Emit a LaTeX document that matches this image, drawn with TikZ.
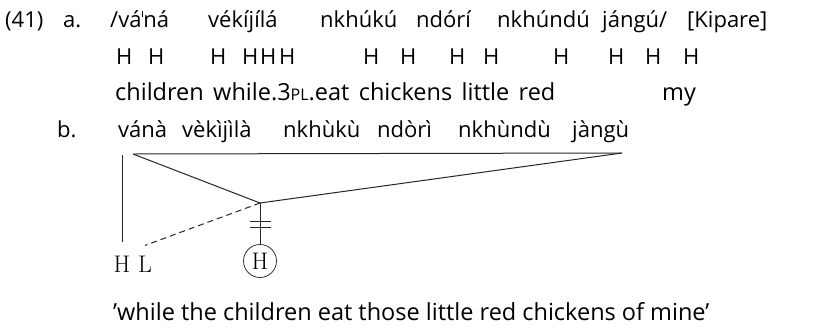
\documentclass[tikz,border=0pt]{standalone}
\usepackage{fontspec}
\newfontfamily\glfont{Open Sans}
\usetikzlibrary{calc}
\tikzset{
  w/.style={anchor=base west, inner sep=0pt, font=\glfont\fontsize{22}{22}\selectfont},
  wg/.style={anchor=base west, inner sep=0pt, font=\glfont\fontsize{23.5}{23.5}\selectfont},
  wt/.style={anchor=base west, inner sep=0pt, font=\glfont\fontsize{23.5}{23.5}\selectfont},
  ser/.style={inner sep=0pt, anchor=base, font=\fontsize{24}{24}\selectfont},
  ln/.style={line width=1pt, draw=black!85},
}
\newcommand{\dstep}{\kern0.5pt\rule[10pt]{0.9pt}{6.5pt}\kern0.5pt}
\newcommand{\smcap}[1]{{\fontsize{16}{16}\selectfont #1}}
\begin{document}
\begin{tikzpicture}[x=1pt,y=-1pt]
\useasboundingbox (0,0) rectangle (826,330);
% line 1
\node[w] (n41) at (5,27) {(41)};
\node[w] (na) at (63,27) {a.};
\node[w] (a1) at (110,27) {/vá\dstep ná};
\node[w] (a2) at (208,27) {vékíjílá};
\node[w] (a3) at (320,27) {nkhúkú};
\node[w] (a4) at (416,27) {ndórí};
\node[w] (a5) at (497,27) {nkhúndú};
\node[w] (a6) at (602,27) {jángú/};
\node[w] (kip) at (687,27) {[Kipare]};
% line 2 tones
\foreach \x [count=\i] in {116,148,210,242,260,279,363,400,449,483,553,608,645,683}
  \node[w] (t\i) at (\x,64) {H};
% line 3 glosses
\node[wg] (g1) at (115,100) {children};
\node[wg] (g2) at ([xshift=9pt]g1.base east) {while.3\smcap{PL}.eat};
\node[wg] (g3) at ([xshift=9pt]g2.base east) {chickens};
\node[wg] (g4) at ([xshift=9pt]g3.base east) {little};
\node[wg] (g5) at ([xshift=9pt]g4.base east) {red};
\node[wg] (g6) at (662,100) {my};
% line b
\node[w] (nb) at (57,137) {b.};
\node[w] (b1) at (118,137) {vánà};
\node[w] (b2) at (182,137) {vèkìjìlà};
\node[w] (b3) at (283,137) {nkhùkù};
\node[w] (b4) at (377,137) {ndòrì};
\node[w] (b5) at (458,137) {nkhùndù};
\node[w] (b6) at (572,137) {jàngù};
% tiers
\coordinate (tl) at (133,154);
\coordinate (tr) at (622,153);
\coordinate (apex) at (260,203);
\coordinate (vtop) at (122,155);
\node[ser] (hH) at (122,272) {H};
\node[ser] (hL) at (145,272) {L};
\node[ser, circle, draw=black!80, line width=0.8pt, minimum size=33pt, anchor=center] (cH) at (260,261) {H};
\draw[ln] (tl) -- (tr);
\draw[ln] (tl) -- (apex) -- (tr);
\draw[ln] (vtop) -- ([yshift=13pt]hH.north);
\draw[ln, dash pattern=on 6pt off 4pt] (apex) -- ([yshift=10pt]hL.north);
\draw[ln] (apex) -- (cH.north);
\path (apex) -- (cH.north) coordinate[pos=0.44] (k1) coordinate[pos=0.585] (k2);
\draw[ln] ([xshift=-10.5pt]k1) -- ([xshift=10.5pt]k1);
\draw[ln] ([xshift=-10.5pt]k2) -- ([xshift=10.5pt]k2);
% free translation
\node[wt] (tr1) at (113,320) {’while the children eat those little red chickens of mine’};
\end{tikzpicture}
\end{document}
